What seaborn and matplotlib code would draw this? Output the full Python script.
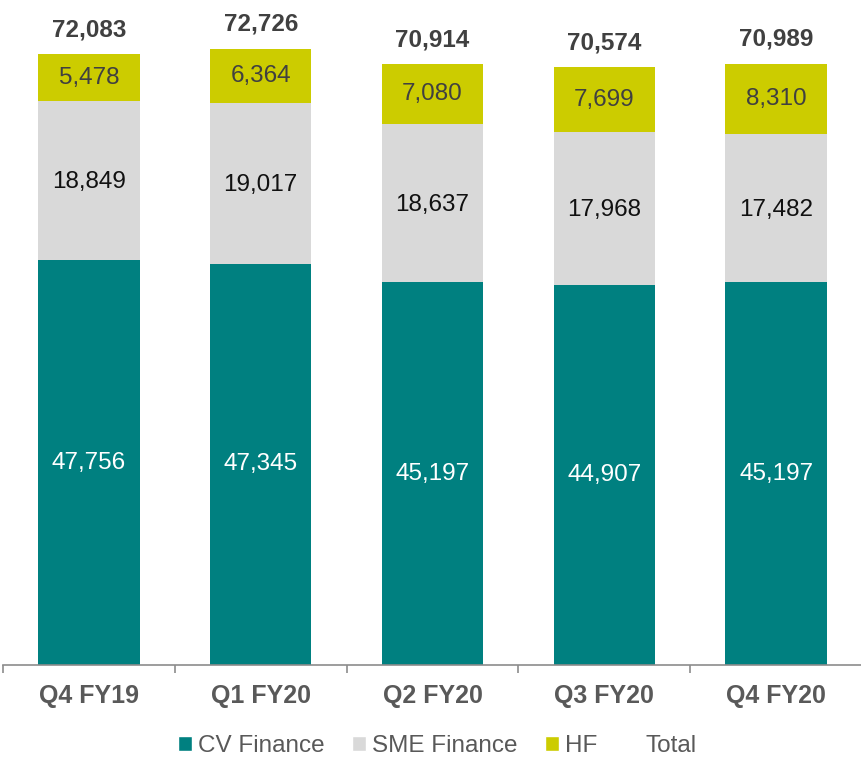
import numpy as np
import pandas as pd
import matplotlib
matplotlib.use("Agg")
import matplotlib.pyplot as plt
from matplotlib.patches import Patch
import seaborn as sns

# dados
quarters = ["Q4 FY19", "Q1 FY20", "Q2 FY20", "Q3 FY20", "Q4 FY20"]
cv_finance = [47756, 47345, 45197, 44907, 45197]
sme_finance = [18849, 19017, 18637, 17968, 17482]
hf = [5478, 6364, 7080, 7699, 8310]
total = [72083, 72726, 70914, 70574, 70989]

c_cv = "#008080"
c_sme = "#D9D9D9"
c_hf = "#CCCC00"

sns.set_style("white")
plt.rcParams['font.family'] = ['Liberation Sans', 'DejaVu Sans']

df = pd.DataFrame({
    "quarter": quarters,
    "cv": cv_finance,
    "sme": sme_finance,
    "hf": hf,
})
df["cv_sme"] = df["cv"] + df["sme"]
df["cum"] = df["cv_sme"] + df["hf"]

fig = plt.figure(figsize=(8.62, 7.58), dpi=100)
ax = fig.add_axes([3 / 862, 93 / 758, 859 / 862, 665 / 758])

w = 0.59
# camadas empilhadas (do topo para a base)
sns.barplot(data=df, x="quarter", y="cum", order=quarters, color=c_hf,
            width=w, saturation=1, linewidth=0, ax=ax)
sns.barplot(data=df, x="quarter", y="cv_sme", order=quarters, color=c_sme,
            width=w, saturation=1, linewidth=0, ax=ax)
sns.barplot(data=df, x="quarter", y="cv", order=quarters, color=c_cv,
            width=w, saturation=1, linewidth=0, ax=ax)

ax.set_xlim(-0.5, 4.5)
ax.set_ylim(0, 78500)

fs = 17.5
for i in range(len(quarters)):
    ax.text(i, cv_finance[i] / 2, f"{cv_finance[i]:,}", ha="center", va="center",
            fontsize=fs, color="white")
    ax.text(i, cv_finance[i] + sme_finance[i] / 2 - 200, f"{sme_finance[i]:,}",
            ha="center", va="center", fontsize=fs, color="#111111")
    ax.text(i, cv_finance[i] + sme_finance[i] + hf[i] / 2, f"{hf[i]:,}",
            ha="center", va="center", fontsize=fs, color="#404040")
    ax.text(i, df["cum"][i] + 2900, f"{total[i]:,}", ha="center", va="center",
            fontsize=fs, color="#404040", fontweight="bold")

# eixos
for s in ["top", "right", "left"]:
    ax.spines[s].set_visible(False)
ax.spines["bottom"].set_color("#8C8C8C")
ax.spines["bottom"].set_linewidth(1.2)
ax.set_yticks([])
ax.set_xlabel("")
ax.set_ylabel("")
ax.set_xticks(range(len(quarters)))
ax.set_xticklabels(quarters, fontsize=18, fontweight="bold", color="#595959")
ax.tick_params(axis="x", which="major", length=0, pad=14)
ax.set_xticks(np.arange(-0.5, 5, 1), minor=True)
ax.tick_params(axis="x", which="minor", bottom=True, direction="out", length=6,
               width=1.2, color="#8C8C8C")

handles = [
    Patch(facecolor=c_cv, label="CV Finance"),
    Patch(facecolor=c_sme, label="SME Finance"),
    Patch(facecolor=c_hf, label="HF"),
    Patch(facecolor="none", edgecolor="none", label="Total"),
]
fig.legend(handles=handles, loc="center", bbox_to_anchor=(437 / 862, 1 - 746 / 758),
           ncol=4, frameon=False, fontsize=17.5, handlelength=0.6, handleheight=0.6,
           handletextpad=0.25, columnspacing=1.1, labelcolor="#595959")

fig.savefig("out.png", dpi=100)
